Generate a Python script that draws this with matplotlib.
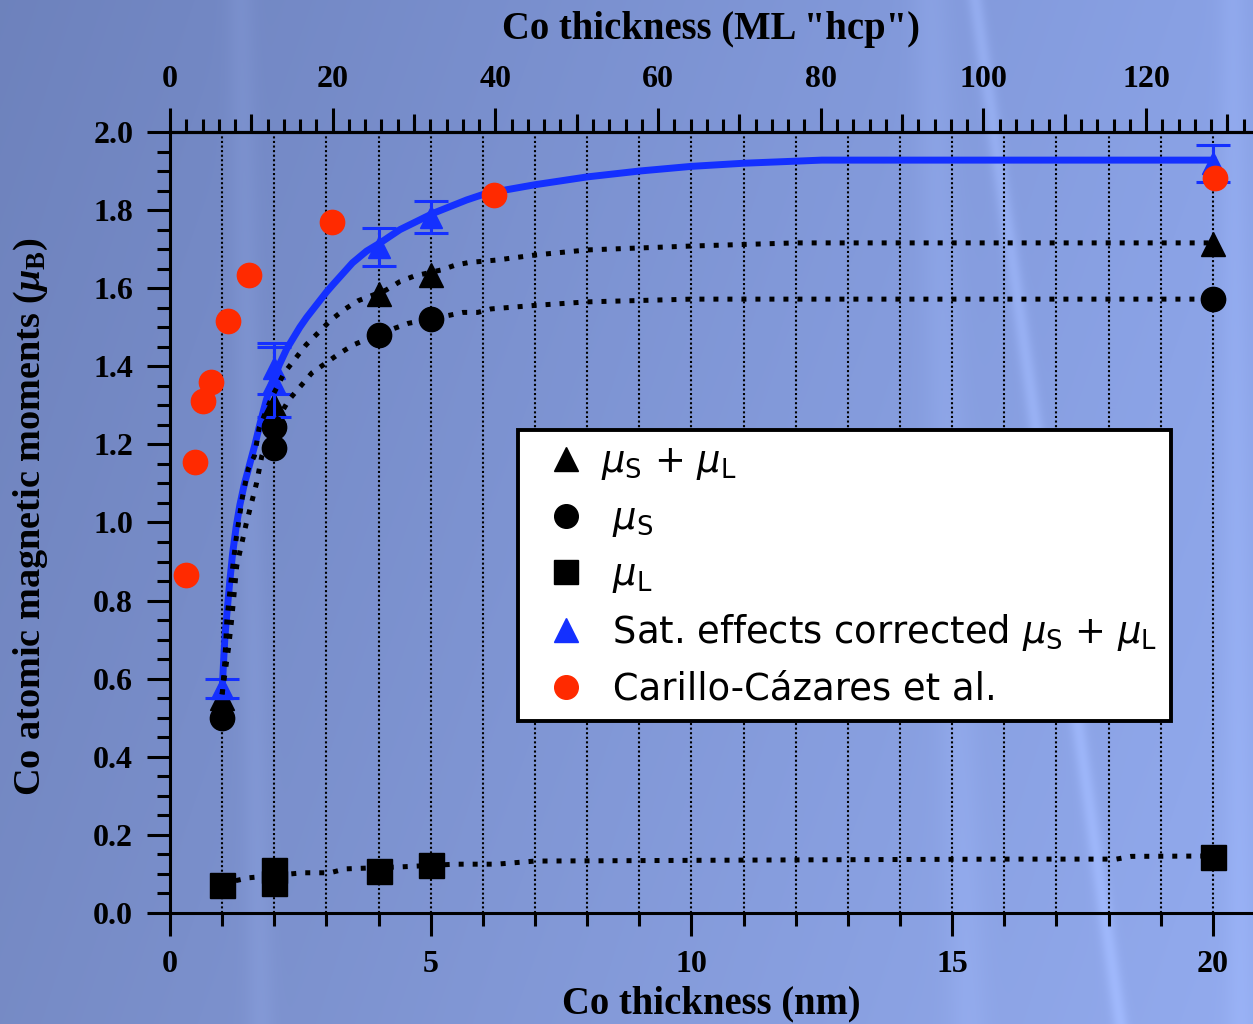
import matplotlib
matplotlib.use("Agg")
import matplotlib.pyplot as plt
import numpy as np
from matplotlib.lines import Line2D
from matplotlib.font_manager import FontProperties
from matplotlib.ticker import MultipleLocator, FixedLocator, NullLocator, NullFormatter, FormatStrFormatter

plt.rcParams['font.family'] = 'Liberation Serif'
plt.rcParams['axes.labelweight'] = 'bold'
plt.rcParams['mathtext.fontset'] = 'custom'
plt.rcParams['mathtext.rm'] = 'Liberation Serif:bold'
plt.rcParams['mathtext.it'] = 'Liberation Serif:italic:bold'
plt.rcParams['mathtext.bf'] = 'Liberation Serif:bold'

# measured points (nm, mu_B)
tri_x = [1, 2, 2, 4, 5, 20]
tri_y = [0.55, 1.30, 1.28, 1.585, 1.635, 1.713]
circ_x = [1, 2, 2, 4, 5, 20]
circ_y = [0.50, 1.245, 1.19, 1.48, 1.522, 1.572]
sq_x = [1, 2, 2, 4, 5, 20]
sq_y = [0.072, 0.110, 0.076, 0.108, 0.123, 0.143]
blue_x = [1, 2, 2, 4, 5, 20]
blue_y = [0.575, 1.395, 1.36, 1.705, 1.783, 1.92]
blue_err = [0.025, 0.065, 0.09, 0.049, 0.041, 0.047]
red_x = [0.31, 0.48, 0.63, 0.79, 1.11, 1.52, 3.11, 6.21, 20.05]
red_y = [0.866, 1.155, 1.311, 1.36, 1.516, 1.635, 1.77, 1.839, 1.882]

# fitted curves
fit_blue_x = [1.00, 1.03, 1.055, 1.10, 1.14, 1.20, 1.27, 1.34, 1.42, 1.53, 1.63, 1.73,
              1.85, 1.98, 2.10, 2.24, 2.49, 2.62, 3.00, 3.13, 3.50, 3.77, 4.03, 4.41,
              5.05, 5.69, 6.07, 7.0, 8.0, 9.0, 10.0, 11.0, 12.5, 20.0]
fit_blue_y = [0.57, 0.65, 0.71, 0.78, 0.84, 0.92, 0.99, 1.045, 1.095, 1.15, 1.20, 1.255,
              1.315, 1.365, 1.405, 1.445, 1.50, 1.525, 1.59, 1.61, 1.665, 1.695, 1.716, 1.75,
              1.792, 1.826, 1.843, 1.865, 1.885, 1.90, 1.912, 1.92, 1.928, 1.928]
fit_tot_x = [1.0, 1.05, 1.09, 1.17, 1.27, 1.39, 1.50, 1.62, 1.71, 1.95, 2.19, 2.40, 2.61,
             2.82, 3.09, 3.36, 3.61, 4.14, 4.41, 4.68, 5.21, 5.47, 5.74, 6.26, 7.0, 8.0,
             10.0, 12.0, 20.0]
fit_tot_y = [0.56, 0.64, 0.75, 0.85, 0.96, 1.066, 1.137, 1.171, 1.242, 1.32, 1.383, 1.419, 1.455,
             1.483, 1.519, 1.547, 1.568, 1.595, 1.617, 1.631, 1.647, 1.659, 1.666, 1.672, 1.685, 1.698,
             1.708, 1.716, 1.716]
fit_spin_x = [1.0, 1.06, 1.12, 1.18, 1.28, 1.46, 1.66, 1.76, 2.0, 2.28, 2.51, 2.72, 3.25,
              3.52, 3.77, 4.30, 4.57, 5.37, 5.62, 5.90, 6.16, 7.0, 8.0, 10.0, 20.0]
fit_spin_y = [0.56, 0.62, 0.676, 0.748, 0.889, 0.996, 1.101, 1.17, 1.25, 1.314, 1.35, 1.383, 1.433,
              1.455, 1.469, 1.497, 1.51, 1.531, 1.538, 1.538, 1.547, 1.556, 1.565, 1.572, 1.572]
fit_orb_x = [1.0, 1.5, 2.55, 3.07, 3.36, 4.41, 5.47, 6.26, 7.0, 12.0, 16.0, 18.15, 18.44, 20.0]
fit_orb_y = [0.075, 0.090, 0.103, 0.103, 0.113, 0.118, 0.125, 0.125, 0.133, 0.136, 0.138, 0.138, 0.145, 0.146]

ML_PER_NM = 6.41
BLUE = '#1430ff'
RED = '#ff2a00'

fig = plt.figure(figsize=(12.53, 10.24), dpi=100)

# background wash
h, w = 1024, 1253
gx = np.linspace(0, 1, w)[None, :, None]
gy = np.linspace(0, 1, h)[:, None, None]
c_left = np.array([0.43, 0.51, 0.74])
c_right = np.array([0.54, 0.635, 0.90])
img = c_left * (1 - gx) + c_right * gx + 0.035 * gy
py, px = np.mgrid[0:h, 0:w]
for (x0, y0, x1, y1, s, a) in [(975, 0, 1120, 1024, 8, 0.07), (240, 0, 250, 500, 14, 0.03),
                               (1232, 0, 1240, 1024, 14, 0.03), (930, 0, 945, 400, 20, 0.03)]:
    dx, dy = x1 - x0, y1 - y0
    d = np.abs(dy * (px - x0) - dx * (py - y0)) / np.hypot(dx, dy)
    img = img + a * np.exp(-(d / s) ** 2)[..., None] * np.array([0.9, 0.95, 1.0])
img = np.clip(img, 0, 1)
bg = fig.add_axes([0, 0, 1, 1], zorder=-1)
bg.imshow(img, aspect='auto', interpolation='bilinear')
bg.axis('off')

ax = fig.add_axes([170 / 1253, 111 / 1024, 1083 / 1253, 781 / 1024])
ax.set_facecolor('none')

dot = dict(color='black', lw=3.6, dashes=(1, 1.8), dash_capstyle='butt', zorder=6)
ax.plot(fit_tot_x, fit_tot_y, **dot)
ax.plot(fit_spin_x, fit_spin_y, **dot)
ax.plot(fit_orb_x, fit_orb_y, **dot)
ax.plot(fit_blue_x, fit_blue_y, color=BLUE, lw=5, zorder=3)

ax.plot(tri_x, tri_y, '^', color='black', ms=17, zorder=4)
ax.plot(circ_x, circ_y, 'o', color='black', ms=17.5, zorder=4)
ax.plot(sq_x, sq_y, 's', color='black', ms=18, zorder=4)
ax.errorbar(blue_x, blue_y, yerr=blue_err, fmt='^', color=BLUE, ms=16,
            capsize=12, capthick=2.2, elinewidth=2.2, zorder=5)
ax.plot(red_x, red_y, 'o', color=RED, ms=17.5, zorder=7)

ax.set_xlim(0, 20.77)
ax.set_ylim(0, 2.0)
ax.spines['right'].set_visible(False)
for s in ['left', 'bottom', 'top']:
    ax.spines[s].set_linewidth(2.2)

ax.xaxis.set_major_locator(MultipleLocator(5))
ax.xaxis.set_minor_locator(MultipleLocator(1))
ax.yaxis.set_major_locator(MultipleLocator(0.2))
ax.yaxis.set_minor_locator(MultipleLocator(0.05))
ax.yaxis.set_major_formatter(FormatStrFormatter('%.1f'))
ax.tick_params(which='both', direction='out', width=2.2, top=False, right=False, labelsize=23)
ax.tick_params(axis='x', which='major', length=16.5, pad=10)
ax.tick_params(axis='x', which='minor', length=9)
ax.tick_params(axis='y', which='major', length=16.5, pad=10)
ax.tick_params(axis='y', which='minor', length=9.5)
ax.grid(True, axis='x', which='both', color='black', lw=1.5, dashes=(1, 1.2))

top = ax.secondary_xaxis('top', functions=(lambda x: x * ML_PER_NM, lambda m: m / ML_PER_NM))
top.xaxis.set_major_locator(FixedLocator(np.arange(0, 121, 20)))
top.xaxis.set_minor_locator(FixedLocator(np.arange(0, 134, 2)))
top.tick_params(which='major', length=17.3, width=2.2, direction='out', labelsize=23, pad=10)
top.tick_params(which='minor', length=9.3, width=2.2, direction='out')
top.spines['top'].set_linewidth(2.2)
top2 = ax.secondary_xaxis('top', functions=(lambda x: x * ML_PER_NM, lambda m: m / ML_PER_NM))
top2.xaxis.set_major_locator(FixedLocator(np.arange(10, 131, 20)))
top2.xaxis.set_minor_locator(NullLocator())
top2.xaxis.set_major_formatter(NullFormatter())
top2.tick_params(which='major', length=13, width=2.2, direction='out')
top2.spines['top'].set_linewidth(2.2)

ax.set_xlabel('Co thickness (nm)', fontsize=27.8, labelpad=5)
top.set_xlabel('Co thickness (ML "hcp")', fontsize=27.8, labelpad=19)
ax.set_ylabel(r'Co atomic magnetic moments ($\mu_\mathrm{B}$)', fontsize=27.5)
ax.yaxis.set_label_coords(-0.111, 0.508)

handles = [
    Line2D([], [], marker='^', ls='none', color='black', ms=17),
    Line2D([], [], marker='o', ls='none', color='black', ms=17),
    Line2D([], [], marker='s', ls='none', color='black', ms=17),
    Line2D([], [], marker='^', ls='none', color=BLUE, ms=17),
    Line2D([], [], marker='o', ls='none', color=RED, ms=17),
]
labels = [
    r'$\mu_\mathrm{S}$ + $\mu_\mathrm{L}$',
    r' $\mu_\mathrm{S}$',
    r' $\mu_\mathrm{L}$',
    r' Sat. effects corrected $\mu_\mathrm{S}$ + $\mu_\mathrm{L}$',
    r' Carillo-Cázares et al.',
]
prop = FontProperties(family='DejaVu Sans', weight='normal', size=26.6, math_fontfamily='dejavusans')
leg = ax.legend(handles, labels, prop=prop, loc='upper left', bbox_to_anchor=(0.3213, 0.6184),
                borderaxespad=0, borderpad=0.36, handlelength=1.9, handletextpad=0.0,
                labelspacing=0.47, fancybox=False, framealpha=1, edgecolor='black')
leg.get_frame().set_linewidth(2.8)
leg.set_zorder(10)

fig.canvas.draw()
for lbl in ax.get_xticklabels() + ax.get_yticklabels() + top.get_xticklabels():
    lbl.set_fontweight('bold')

fig.savefig('out.png', dpi=100)
